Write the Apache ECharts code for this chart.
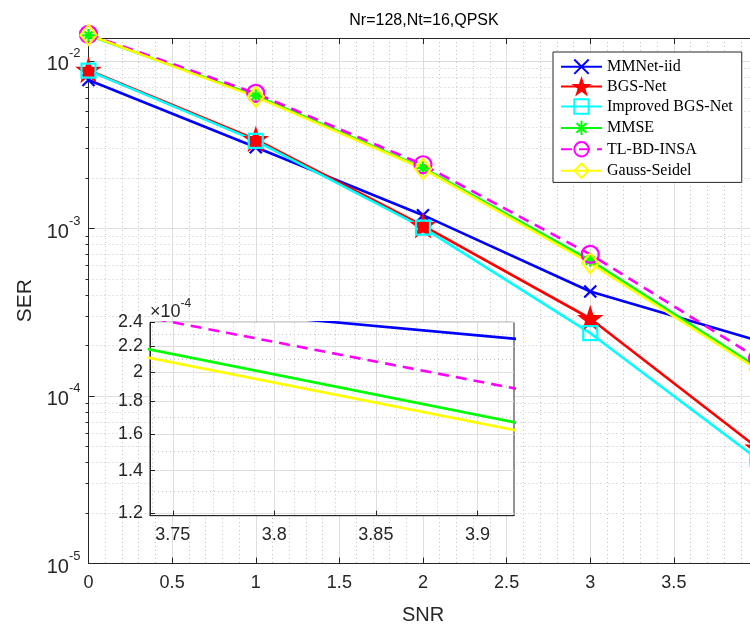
<!DOCTYPE html>
<html>
<head>
<meta charset="utf-8">
<title>Nr=128,Nt=16,QPSK</title>
<script src="https://cdn.jsdelivr.net/npm/echarts@6/dist/echarts.min.js"></script>
<style>
  html, body { margin: 0; padding: 0; background: #fff; overflow: hidden; }
  #chart { width: 750px; height: 626px; }
</style>
</head>
<body>
<div id="chart"></div>
<script>
// SER vs SNR
const snr = [0, 1, 2, 3, 4];
const mmnetIid = [7.7e-3, 3.05e-3, 1.2e-3, 4.2e-4, 2.14e-4];
const bgsNet = [8.8e-3, 3.4e-3, 1.04e-3, 2.9e-4, 4.9e-5];
const improvedBgsNet = [8.75e-3, 3.33e-3, 1.01e-3, 2.37e-4, 4.2e-5];
const mmse = [1.42e-2, 6.2e-3, 2.3e-3, 6.45e-4, 1.48e-4];
const tlBdInsa = [1.44e-2, 6.4e-3, 2.4e-3, 7.0e-4, 1.68e-4];
const gaussSeidel = [1.43e-2, 6.1e-3, 2.27e-3, 6.2e-4, 1.44e-4];

// tick values
const yMajor = [1e-5, 1e-4, 1e-3, 1e-2];
const yMinor = [];
yMajor.slice(0, 3).forEach(function (p) {
  for (let k = 2; k <= 9; k++) yMinor.push(k * p);
});
const insetXTicks = [3.75, 3.8, 3.85, 3.9];
const insetXMinor = [3.74, 3.76, 3.77, 3.78, 3.79, 3.81, 3.82, 3.83, 3.84, 3.86, 3.87, 3.88, 3.89, 3.91];
const insetYTicks = [1.2e-4, 1.4e-4, 1.6e-4, 1.8e-4, 2.0e-4, 2.2e-4, 2.4e-4];
const insetYMinor = [1.3e-4, 1.5e-4, 1.7e-4, 1.9e-4, 2.1e-4, 2.3e-4];

const AX = '#262626';
const GRID = '#dedede';
const MINOR = '#c2c2c2';
const FONT = 'Liberation Sans';

const lines = [
  { name: 'MMNet-iid', data: mmnetIid, color: '#0000ff', symbol: 'path://M0,0L10,10M10,0L0,10', size: 12, fill: 'none' },
  { name: 'BGS-Net', data: bgsNet, color: '#ff0000', symbol: 'path://M50,0L61.8,35.1L98.9,35.1L68.9,56.7L80.2,91.9L50,70L19.8,91.9L31.1,56.7L1.1,35.1L38.2,35.1Z', size: 20, fill: '#ff0000' },
  { name: 'Improved BGS-Net', data: improvedBgsNet, color: '#00ffff', symbol: 'path://M0,0L10,0L10,10L0,10Z', size: 14, fill: 'none' },
  { name: 'MMSE', data: mmse, color: '#00ff00', symbol: 'path://M5,0L5,10M0,5L10,5M1.6,1.6L8.4,8.4M8.4,1.6L1.6,8.4', size: 13, fill: 'none' },
  { name: 'TL-BD-INSA', data: tlBdInsa, color: '#ff00ff', symbol: 'path://M10,5A5,5,0,1,1,0,5A5,5,0,1,1,10,5Z', size: 17, fill: 'none', dashed: true },
  { name: 'Gauss-Seidel', data: gaussSeidel, color: '#ffff00', symbol: 'path://M5,0L10,5L5,10L0,5Z', size: [16, 20], fill: 'none' }
];

function pairs(vals) {
  return snr.map(function (s, i) { return [s, vals[i]]; });
}

function supLabel(v) {
  return '{b|10}{s|' + Math.round(Math.log10(v)) + '}';
}

const supRich = {
  b: { fontSize: 20, color: AX, fontFamily: FONT, lineHeight: 28, verticalAlign: 'bottom' },
  s: { fontSize: 13, color: AX, fontFamily: FONT, lineHeight: 28, verticalAlign: 'top' }
};
const insetNameRich = {
  b: { fontSize: 18, color: AX, fontFamily: FONT, lineHeight: 24, verticalAlign: 'bottom' },
  s: { fontSize: 12, color: AX, fontFamily: FONT, lineHeight: 24, verticalAlign: 'top' }
};

const mainSeries = lines.map(function (l) {
  return {
    name: l.name,
    type: 'line',
    xAxisIndex: 0,
    yAxisIndex: 0,
    data: pairs(l.data),
    clip: false,
    symbol: l.symbol,
    symbolSize: l.size,
    lineStyle: { color: l.color, width: 2.6, type: l.dashed ? [11, 7] : 'solid' },
    itemStyle: { color: l.fill, borderColor: l.color, borderWidth: 2.2 },
    emphasis: { disabled: true },
    animation: false
  };
});

const insetSeries = lines.map(function (l) {
  return {
    name: l.name + ' (zoom)',
    type: 'line',
    xAxisIndex: 2,
    yAxisIndex: 2,
    data: pairs(l.data),
    clip: true,
    showSymbol: false,
    z: 6,
    lineStyle: { color: l.color, width: 2.6, type: l.dashed ? [11, 7] : 'solid' },
    itemStyle: { color: l.color },
    emphasis: { disabled: true },
    animation: false
  };
});

const chart = echarts.init(document.getElementById('chart'), null, { renderer: 'canvas' });

chart.setOption({
  backgroundColor: '#fff',
  animation: false,
  title: {
    text: 'Nr=128,Nt=16,QPSK',
    left: 419,
    top: 8,
    textAlign: 'center',
    textStyle: { fontFamily: FONT, fontSize: 16, fontWeight: 'normal', color: '#000' }
  },
  legend: {
    data: lines.map(function (l) { return l.name; }),
    orient: 'vertical',
    left: 553,
    top: 52,
    itemWidth: 41,
    itemHeight: 18,
    itemGap: 2,
    padding: [5, 9, 2, 7],
    backgroundColor: '#fff',
    borderColor: AX,
    borderWidth: 1,
    borderRadius: 0,
    selectedMode: false,
    z: 8,
    textStyle: { fontFamily: 'Liberation Serif', fontSize: 16, lineHeight: 16, color: '#000' }
  },
  grid: [
    { left: 88.5, top: 38, right: -7.5, bottom: 62.5, outerBoundsMode: 'none', containLabel: false },
    { left: 150, top: 322.3, width: 364, height: 193.4, outerBoundsMode: 'none', containLabel: false,
      show: true, backgroundColor: '#fff', borderColor: AX, borderWidth: 1, z: 3 }
  ],
  xAxis: [
    {
      gridIndex: 0, type: 'value', min: 0, max: 4, interval: 0.5,
      axisLine: { lineStyle: { color: AX } },
      axisTick: { inside: true, length: 6, lineStyle: { color: AX } },
      axisLabel: { fontSize: 18, color: AX, fontFamily: FONT, margin: 11 },
      splitLine: { show: true, lineStyle: { color: GRID } },
      minorTick: { show: false, splitNumber: 5 },
      minorSplitLine: { show: true, lineStyle: { color: MINOR, type: [1, 3] } },
      name: 'SNR', nameLocation: 'middle', nameGap: 42,
      nameTextStyle: { fontSize: 20, color: AX, fontFamily: FONT }
    },
    {
      gridIndex: 0, type: 'value', position: 'top', min: 0, max: 4, interval: 0.5,
      axisLine: { lineStyle: { color: AX } },
      axisTick: { inside: true, length: 6, lineStyle: { color: AX } },
      axisLabel: { show: false },
      splitLine: { show: false }
    },
    {
      gridIndex: 1, type: 'value', min: 3.7388, max: 3.918, z: 4,
      axisLine: { lineStyle: { color: AX } },
      axisTick: { inside: true, length: 5, customValues: insetXTicks, lineStyle: { color: AX } },
      axisLabel: { customValues: insetXTicks, fontSize: 18, color: AX, fontFamily: FONT, margin: 10 },
      splitLine: { show: true, lineStyle: { color: GRID } }
    },
    {
      gridIndex: 1, type: 'value', min: 3.7388, max: 3.918, z: 4,
      axisLine: { show: false },
      axisTick: { show: false, customValues: insetXMinor },
      axisLabel: { show: false },
      splitLine: { show: true, lineStyle: { color: MINOR, type: [1, 3] } }
    }
  ],
  yAxis: [
    {
      gridIndex: 0, type: 'log', logBase: 10, min: 1e-5, max: 0.0137,
      axisLine: { show: true, lineStyle: { color: AX } },
      axisTick: { show: true, inside: true, length: 6, customValues: yMajor, lineStyle: { color: AX } },
      axisLabel: { customValues: yMajor, formatter: supLabel, rich: supRich, margin: 8 },
      splitLine: { show: true, lineStyle: { color: GRID } },
      name: 'SER', nameLocation: 'middle', nameGap: 50,
      nameTextStyle: { fontSize: 21, color: AX, fontFamily: FONT }
    },
    {
      gridIndex: 0, type: 'log', logBase: 10, min: 1e-5, max: 0.0137,
      axisLine: { show: false },
      axisTick: { show: true, inside: true, length: 3, customValues: yMinor, lineStyle: { color: AX } },
      axisLabel: { show: false },
      splitLine: { show: true, lineStyle: { color: MINOR, type: [1, 3] } }
    },
    {
      gridIndex: 1, type: 'log', logBase: 10, min: 1.189e-4, max: 2.4e-4, z: 4,
      axisLine: { show: true, lineStyle: { color: AX } },
      axisTick: { show: true, inside: true, length: 5, customValues: insetYTicks, lineStyle: { color: AX } },
      axisLabel: {
        customValues: insetYTicks, fontSize: 18, color: AX, fontFamily: FONT, margin: 7,
        formatter: function (v) { return String(parseFloat((v * 1e4).toFixed(2))); }
      },
      splitLine: { show: true, lineStyle: { color: GRID } },
      name: '{b|×10}{s|-4}', nameLocation: 'end', nameGap: 1,
      nameTextStyle: { align: 'left', rich: insetNameRich }
    },
    {
      gridIndex: 1, type: 'log', logBase: 10, min: 1.189e-4, max: 2.4e-4, z: 4,
      axisLine: { show: false },
      axisTick: { show: false, customValues: insetYMinor },
      axisLabel: { show: false },
      splitLine: { show: true, lineStyle: { color: MINOR, type: [1, 3] } }
    }
  ],
  series: mainSeries.concat(insetSeries)
});
</script>
</body>
</html>
